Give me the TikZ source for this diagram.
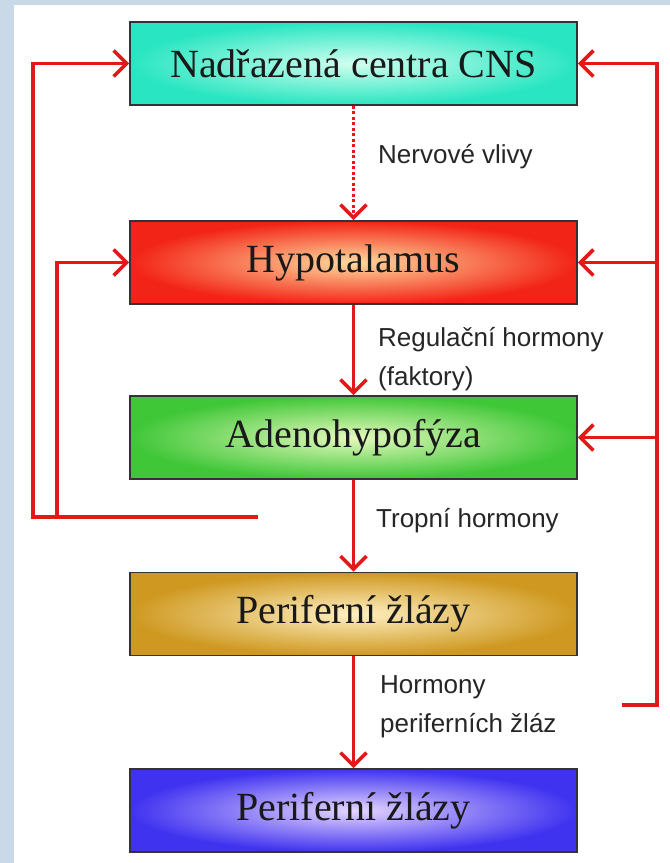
\documentclass[tikz,border=0pt]{standalone}
\usepackage{fontspec}
\setmainfont{Liberation Serif}
\setsansfont{Liberation Sans}
\usetikzlibrary{arrows.meta}
\definecolor{BackClr}{rgb}{0.79,0.85,0.91}
\definecolor{LineClr}{rgb}{0.89,0.1,0.1}
\definecolor{CnsClr}{rgb}{0.16,0.9,0.76}
\definecolor{CnsInClr}{rgb}{0.82,1,0.94}
\definecolor{HypoClr}{rgb}{0.95,0.14,0.09}
\definecolor{HypoInClr}{rgb}{1,0.86,0.62}
\definecolor{AdenoClr}{rgb}{0.25,0.78,0.22}
\definecolor{AdenoInClr}{rgb}{0.9,0.98,0.74}
\definecolor{GlandClr}{rgb}{0.81,0.6,0.13}
\definecolor{GlandInClr}{rgb}{1,0.94,0.76}
\definecolor{TargetClr}{rgb}{0.25,0.2,0.94}
\definecolor{TargetInClr}{rgb}{0.9,0.84,1}

\begin{document}
\begin{tikzpicture}[x=1pt,y=-1pt,
  box/.style={draw=black!80,line width=1.8pt,minimum width=447pt,minimum height=83pt,
    inner sep=0pt,font=\fontsize{40}{40}\selectfont,text=black!90},
  lbl/.style={anchor=west,align=left,inner sep=0pt,
    font=\sffamily\fontsize{26}{39}\selectfont,text=black!85},
  fb/.style={draw=LineClr,line width=3.6pt},
  arr/.style={fb,-{Straight Barb[length=13pt,width=26pt]}}]

\fill[BackClr] (0,0) rectangle (670,863);
\fill[white] (14,5) rectangle (670,863);

\node[box,inner color=CnsInClr,outer color=CnsClr] (cns) at (353.5,63.5) {Nadřazená centra CNS};
\node[box,inner color=HypoInClr,outer color=HypoClr] (hypo) at (353.5,262.5) {Hypotalamus};
\node[box,inner color=AdenoInClr,outer color=AdenoClr] (adeno) at (353.5,437.5) {Adenohypofýza};
\node[box,inner color=GlandInClr,outer color=GlandClr] (gland) at (353.5,614) {Periferní žlázy};
\node[box,inner color=TargetInClr,outer color=TargetClr] (target) at (353.5,810.5) {Periferní žlázy};

\draw[arr,dash pattern=on 3pt off 2.5pt] (cns) -- (hypo);
\draw[arr] (hypo) -- (adeno);
\draw[arr] (adeno) -- (gland);
\draw[arr] (gland) -- (target);

\node[lbl] (nerv) at (378,157) {Nervové vlivy};
\node[lbl] (reg) at (378,359) {Regulační hormony\\(faktory)};
\node[lbl] (trop) at (376,521) {Tropní hormony};
\node[lbl] (horm) at (380,707) {Hormony\\periferních žláz};

\coordinate (lend) at (258,517);
\coordinate (lout) at (33,517);
\coordinate (lin) at (57,517);
\draw[arr] (lend) -- (lout) |- (cns.west);
\draw[arr] (lin) |- (hypo.west);

\coordinate (rend) at (622,705);
\coordinate (rcor) at (657,705);
\draw[arr] (rend) -- (rcor) |- (cns.east);
\draw[arr] (hypo.east -| rcor) -- (hypo.east);
\draw[arr] (adeno.east -| rcor) -- (adeno.east);

\end{tikzpicture}
\end{document}
